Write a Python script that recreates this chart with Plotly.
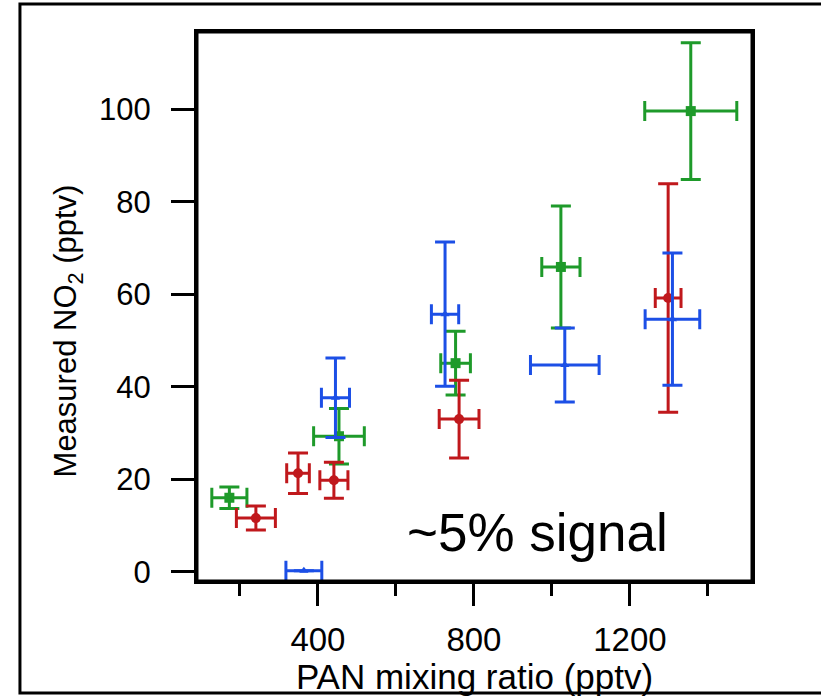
import plotly.graph_objects as go

# ---- data ----
green_x = [173, 454, 753, 1023, 1356]
green_y = [16.0, 29.3, 45.1, 65.9, 99.6]
green_xerr = [45, 65, 38, 49, 118]
green_yerr = [2.3, 6.0, 6.9, 13.2, 14.8]

red_x = [241, 349, 441, 762, 1298]
red_y = [11.6, 21.3, 19.8, 33.0, 59.2]
red_xerr = [50, 29, 36, 51, 33]
red_yerr = [2.6, 4.4, 3.9, 8.4, 24.7]

blue_x = [364, 445, 726, 1033, 1309]
blue_y = [0.2, 37.6, 55.7, 44.7, 54.6]
blue_xerr = [46, 36, 35, 88, 70]
blue_yerr = [0.0, 8.6, 15.6, 8.0, 14.3]

x_ticks = [400, 800, 1200]
x_minor = [200, 600, 1000, 1400]
y_ticks = [0, 20, 40, 60, 80, 100]

GREEN = "#1e9a2a"
RED = "#c0181c"
BLUE = "#1c4fe6"
FONT = "Liberation Sans, Arial, sans-serif"

fig = go.Figure()

def add_series(xs, ys, xe, ye, color, symbol, size):
    fig.add_trace(go.Scatter(
        x=xs, y=ys, mode="markers", cliponaxis=False,
        marker=dict(color=color, symbol=symbol, size=size, line=dict(width=0)),
        error_x=dict(type="data", array=xe, visible=True, color=color, thickness=3, width=10),
        error_y=dict(type="data", array=ye, visible=True, color=color, thickness=3, width=10),
        showlegend=False,
    ))

add_series(green_x, green_y, green_xerr, green_yerr, GREEN, "square", 10)
add_series(red_x, red_y, red_xerr, red_yerr, RED, "circle", 10)
add_series(blue_x, blue_y, blue_xerr, blue_yerr, BLUE, "triangle-up", 8)

fig.add_annotation(
    x=623, y=8.4, xref="x", yref="y", text="~5% signal", showarrow=False,
    xanchor="left", yanchor="middle",
    font=dict(family=FONT, size=53, color="black"),
)

# y-axis title (placed as in the reference, slightly below the axis centre)
fig.add_annotation(
    x=-0.232, y=0.455, xref="paper", yref="paper",
    text="Measured NO<sub>2</sub> (pptv)", showarrow=False, textangle=-90,
    xanchor="center", yanchor="middle",
    font=dict(family=FONT, size=31, color="black"),
)

# plot box
fig.add_shape(type="rect", xref="paper", yref="paper",
              x0=0, x1=1, y0=0, y1=1,
              line=dict(color="black", width=3), fillcolor="rgba(0,0,0,0)", layer="above")
# outer frame
fig.add_shape(type="rect", xref="paper", yref="paper",
              x0=-0.319, x1=1.2, y0=-0.204, y1=1.051,
              line=dict(color="black", width=3), fillcolor="rgba(0,0,0,0)", layer="above")

fig.update_layout(
    width=821, height=696,
    margin=dict(l=197, r=69, t=32, b=115, autoexpand=False),
    paper_bgcolor="white", plot_bgcolor="white",
    font=dict(family=FONT, color="black"),
    showlegend=False,
)

fig.update_xaxes(
    range=[90, 1513], tickmode="array", tickvals=x_ticks, automargin=False,
    ticks="outside", ticklen=22, tickwidth=3, tickcolor="black",
    showline=True, linewidth=3, linecolor="black", mirror=True,
    showgrid=False, zeroline=False,
    tickfont=dict(family=FONT, size=33, color="black"),
    ticklabelstandoff=5,
    minor=dict(tickmode="array", tickvals=x_minor, ticks="outside",
               ticklen=12, tickwidth=3, tickcolor="black", showgrid=False),
    title=dict(text="PAN mixing ratio (pptv)", font=dict(family=FONT, size=35, color="black"), standoff=2),
)

fig.update_yaxes(
    range=[-2.0, 116.7], tickmode="array", tickvals=y_ticks, automargin=False,
    ticks="outside", ticklen=23, tickwidth=3, tickcolor="black",
    showline=True, linewidth=3, linecolor="black", mirror=True,
    showgrid=False, zeroline=False,
    tickfont=dict(family=FONT, size=31, color="black"),
    ticklabelstandoff=14,
)

fig.write_html("out.html")
